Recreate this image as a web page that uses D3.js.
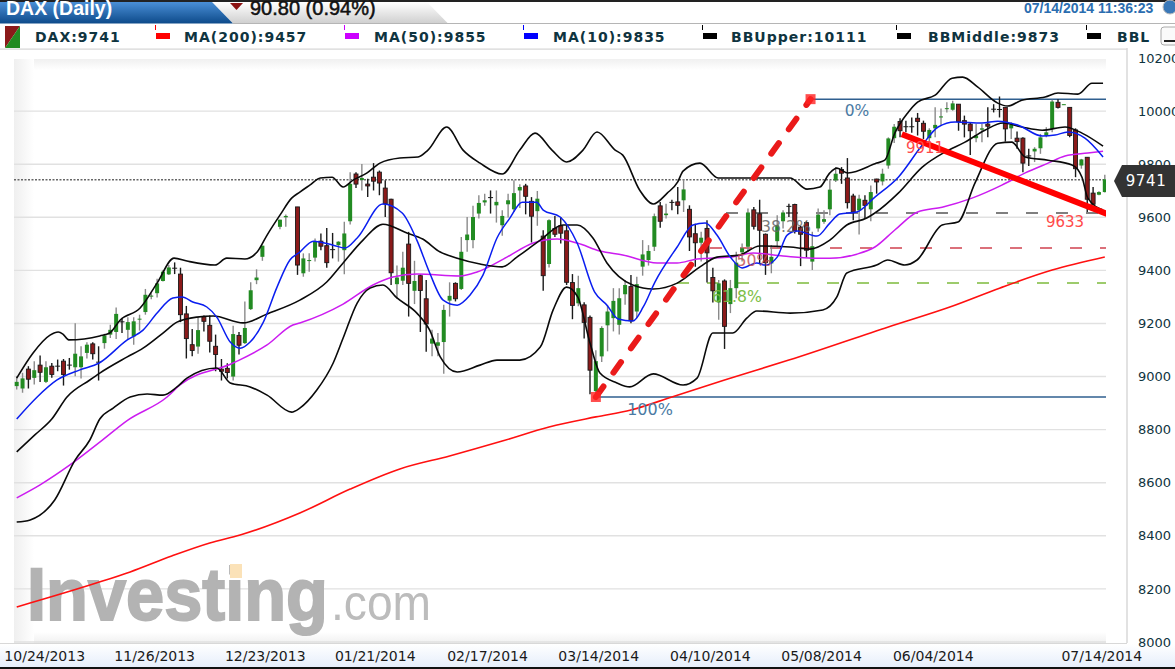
<!DOCTYPE html>
<html><head><meta charset="utf-8">
<script src="https://cdn.jsdelivr.net/npm/d3@7/dist/d3.min.js"></script>
<style>html,body{margin:0;padding:0;background:#fff;overflow:hidden}svg{display:block}text{font-family:"DejaVu Sans",sans-serif}</style>
</head><body><svg id="c" width="1175" height="669"></svg>
<script>
// ---- data ----
const opens=[8964,8955,9028,8995,9043,8980,9039,9041,9058,9045,9035,9035,9089,9123,9056,9126,9158,9168,9208,9176,9151,9215,9243,9301,9314,9360,9385,9410,9386,9236,9120,9113,9225,9193,9114,9028,9031,9000,9155,9126,9254,9363,9451,null,null,9564,9600,null,9639,
9389,9435,9448,9510,9493,9480,9495,9476,9585,9763,9740,9725,9751,9770,9710,9668,9348,9361,9499,9323,9380,9293,9124,9116,9130,9286,9351,9330,9514,9514,9614,9656,9676,9645,9570,9649,9630,9701,9718,9660,9623,9529,9424,9558,9568,9549,9354,9276,9270,9223,8945,
9076,9193,9220,9195,9310,9339,9245,9414,9439,9489,9643,9608,9658,9658,9664,9630,9538,9504,9558,9373,9279,9360,9273,9333,9468,9489,9628,9613,9536,9426,9510,9585,9643,9648,9563,9580,9433,9558,9583,9630,9739,9780,9748,9680,9626,9664,9630,9744,9735,9795,
9898,9961,9943,9943,9973,9954,9898,9935,9976,10008,10005,10026,9964,9951,9898,9930,9951,10009,10008,10014,9935,9898,9898,9833,9848,9860,9908,9933,10033,10024,10014,9929,9795,9826,9691,9685,9695];
const closes=[8980,8993,8990,9024,9016,9035,9008,9040,9008,9043,9086,9076,9120,9086,9055,9155,9176,9236,9206,9205,9208,9218,9308,9305,9351,9395,9411,9408,9233,9143,9098,9175,9208,9133,9083,9020,9015,9160,9118,9183,9325,9373,9493,null,null,9591,9605,null,9420,
9445,9439,9510,9491,9429,9478,9508,9539,9726,9725,9748,9718,9736,9729,9651,9391,9373,9410,9351,9360,9324,9198,9143,9129,9251,9304,9293,9470,9535,9601,9654,9664,9674,9658,9605,9664,9691,9714,9679,9604,9670,9380,9589,9536,9540,9355,9268,9333,9204,9024,9058,
9183,9245,9285,9295,9345,9210,9348,9460,9473,9604,9585,9614,9655,9645,9705,9526,9504,9523,9466,9323,9351,9189,9333,9429,9483,9618,9566,9551,9429,9451,9570,9618,9640,9548,9536,9476,9491,9610,9593,9704,9764,9766,9655,9620,9670,9645,9695,9733,9764,9897,
9941,9926,9940,9940,9961,9924,9929,9948,9980,10011,10029,9961,9951,9926,9908,9935,9943,10006,10005,9933,9949,9885,9804,9830,9858,9901,9920,10036,10014,10026,9908,9783,9818,9668,9649,9695,9743];
const highs=[9001,9014,9039,9058,9079,9058,9051,9064,9066,9070,9201,9114,9129,9129,9114,9161,9195,9260,9220,9223,9223,9233,9330,9314,9368,9401,9420,9430,9410,9266,9179,9223,9230,9230,9158,9066,9050,9191,9168,9283,9355,9404,9493,null,null,9591,9610,null,9639,
9464,9464,9520,9539,9560,9541,9510,9583,9770,9770,9801,9745,9804,9776,9739,9670,9418,9470,9545,9436,9385,9364,9176,9164,9270,9355,9355,9526,9601,9643,9683,9689,9701,9701,9626,9689,9739,9724,9726,9676,9699,9551,9593,9605,9601,9570,9386,9380,9280,9230,9099,
9189,9270,9333,9333,9364,9383,9376,9514,9495,9614,9658,9651,9666,9714,9743,9645,9576,9545,9589,9410,9364,9366,9364,9470,9501,9633,9639,9666,9539,9495,9608,9626,9651,9651,9568,9585,9545,9633,9626,9739,9789,9789,9823,9689,9685,9683,9720,9745,9783,9901,
9951,9973,9964,9976,9993,9964,9935,10014,10010,10033,10039,10026,9983,9955,9951,9951,10014,10026,10055,10014,9958,9923,9901,9858,9864,9914,9939,10043,10045,10026,10014,9935,9820,9826,9714,9698,9760];
const lows=[8951,8939,8955,8970,8979,8976,8995,9020,8966,9026,9001,8993,9068,9064,8985,9105,9145,9141,9164,9139,9120,9173,9233,9291,9298,9358,9383,9386,9205,9068,9076,9086,9170,9091,9020,8985,8993,8985,9083,9123,9251,9348,9436,null,null,9555,9564,null,9383,
9376,9395,9433,9476,9410,9445,9433,9385,9573,9710,9701,9676,9701,9683,9601,9345,9293,9345,9226,9273,9168,9093,9076,9076,9011,9226,9283,9326,9470,9483,9595,9643,9614,9580,9530,9599,9620,9635,9611,9505,9568,9323,9411,9526,9501,9345,9216,9265,9143,8933,8925,
9055,9095,9170,9158,9270,9201,9220,9380,9418,9473,9561,9595,9626,9611,9620,9473,9414,9433,9354,9279,9214,9104,9239,9295,9433,9470,9554,9423,9383,9389,9483,9558,9601,9539,9416,9448,9401,9545,9576,9608,9733,9726,9633,9589,9535,9595,9585,9689,9720,9783,
9880,9901,9920,9918,9908,9895,9880,9901,9945,9995,10001,9926,9901,9835,9883,9883,9901,9995,9976,9885,9895,9858,9770,9793,9808,9839,9901,9920,10010,10024,9901,9751,9783,9620,9645,9683,9693];
// moving-average and band readings: [candle index, value]
const ma200=[[0,8132],[13.6,8222],[19.4,8264],[26.5,8324],[33,8373],[38.2,8403],[48.4,8486],[57,8576],[65.5,8652],[74,8701],[83,8757],[91,8810],[99,8848],[105,8874],[112,8923],[121,8987],[132,9062],[149,9187],[160,9266],[168,9333],[177,9401],[186,9450]];
const ma50=[[0,8543],[4,8592],[9.1,8667],[14.2,8753],[19,8836],[25.7,8923],[27.9,8968],[37,9051],[42.8,9119],[47.2,9194],[48.4,9202],[55.8,9273],[60.9,9345],[64.3,9375],[68.4,9386],[75.8,9379],[78.7,9394],[83.8,9450],[88.3,9503],[92.4,9518],[95.8,9503],[99.7,9473],[103.6,9458],[109.5,9428],[112.9,9428],[116.3,9443],[122,9450],[125.9,9465],[131,9454],[136.1,9446],[139,9446],[143.6,9461],[146.7,9488],[150.1,9552],[154,9620],[158.2,9638],[163.3,9672],[168.4,9721],[172.4,9767],[176.3,9804],[179.2,9831],[183.1,9842],[185.7,9849]];
const ma10=[[0,8840],[3.5,8923],[6.9,8987],[10.8,9025],[14.1,9051],[18.9,9138],[21.6,9175],[24,9239],[26.7,9296],[28.3,9300],[30.1,9281],[32.5,9262],[34.2,9224],[36.5,9130],[38.2,9107],[39.9,9130],[42.1,9202],[44.5,9337],[46.7,9439],[48.4,9469],[50.7,9510],[54.1,9495],[56.1,9484],[58.2,9522],[62.6,9650],[65.9,9616],[68.4,9514],[70.6,9390],[72.9,9288],[75.3,9269],[77.5,9307],[79.7,9382],[82.1,9522],[84.3,9597],[86.4,9657],[88.9,9657],[90,9627],[92.9,9601],[95.8,9503],[98.8,9318],[100.9,9269],[102.8,9217],[105.3,9209],[107.1,9262],[109.1,9356],[112.9,9488],[115.6,9571],[117.7,9578],[119.7,9533],[122,9450],[124,9409],[126.5,9428],[127.9,9420],[130,9450],[131.7,9533],[133.4,9548],[136.8,9529],[139,9578],[140.7,9612],[143.6,9620],[146.7,9676],[150.7,9751],[154.8,9872],[157.5,9940],[160.4,9959],[165,9955],[167.7,9962],[171.2,9947],[175.3,9906],[177.5,9910],[179.7,9921],[182.6,9898],[185.7,9827]];
const bbUpper=[[0,8994],[2.8,9089],[5.7,9156],[7.1,9168],[7.9,9160],[8.9,9138],[14.2,9153],[15.9,9164],[17.7,9213],[21.1,9258],[24,9352],[26.9,9446],[29.1,9435],[33.9,9420],[35.9,9446],[39,9443],[41.1,9469],[42.8,9533],[45,9608],[47,9672],[48.4,9695],[50.1,9721],[51.9,9748],[53.9,9751],[55.8,9714],[57.5,9740],[59.9,9767],[62.1,9804],[65.5,9823],[68.6,9827],[70.3,9853],[73.5,9940],[76.3,9853],[79.2,9804],[83,9763],[86,9853],[88.6,9917],[91.5,9853],[94,9808],[96.8,9853],[99.2,9921],[102.3,9853],[103.6,9834],[106.5,9702],[108.8,9650],[111.2,9691],[113,9733],[113.9,9774],[116.8,9804],[119.9,9748],[125.9,9748],[132.2,9748],[135.1,9706],[137.3,9714],[139,9767],[140.2,9785],[142.1,9767],[147,9804],[148.4,9815],[150.1,9917],[152.4,9996],[154,10034],[157,10060],[159.9,10124],[161.7,10128],[164.3,10090],[167.7,10030],[169.4,10019],[171.8,10041],[175.8,10053],[178,10068],[181.4,10064],[183.8,10105],[185.7,10105]];
const bbMiddle=[[0,8716],[3.1,8780],[6,8840],[8.6,8923],[12.5,8987],[14.2,9013],[18.9,9074],[21.6,9107],[25,9164],[27.4,9205],[30.8,9224],[33.6,9228],[38.7,9202],[42.8,9236],[48.4,9288],[53,9356],[55.8,9428],[59.2,9514],[62.6,9574],[66.7,9541],[69.4,9518],[72.4,9469],[75.3,9446],[79.2,9424],[83,9413],[85.5,9450],[89.5,9514],[93.4,9571],[95.8,9571],[98.5,9522],[100.9,9428],[105.3,9345],[108.8,9330],[112.9,9352],[116.8,9413],[119.7,9450],[123.6,9458],[127,9492],[132.2,9488],[135.6,9480],[139,9514],[141.9,9571],[145.3,9597],[146.7,9616],[150.7,9691],[154.8,9789],[158.7,9846],[162.1,9883],[165.5,9928],[168.6,9955],[171.8,9940],[175.3,9928],[179.2,9940],[182.1,9917],[185.7,9868]];
const bbLower=[[0,8452],[2.3,8460],[6.5,8535],[10,8686],[12.5,8761],[14.2,8840],[16.5,8881],[19.4,8923],[22.3,8934],[25,8930],[27.4,8961],[29.1,8994],[34.2,9032],[36.5,8976],[39.9,8961],[42.8,8930],[47,8866],[48.4,8881],[51.3,8949],[54.1,9051],[55.8,9145],[58.2,9277],[60.4,9333],[62.6,9345],[65,9296],[68.4,9239],[70.6,9175],[72.4,9074],[75.3,9017],[79.2,9043],[82.1,9062],[86,9062],[89.5,9111],[91.7,9251],[94,9337],[95.9,9300],[98,9126],[99.7,9013],[102.6,8976],[104.8,8961],[108.8,9010],[113.9,8968],[116.3,8994],[119,9164],[122.4,9164],[124.8,9220],[126.5,9247],[132.2,9239],[137.8,9251],[140.2,9300],[141.9,9390],[147,9420],[148.9,9439],[151.8,9420],[153.9,9439],[158.2,9571],[160.9,9582],[163.8,9729],[167.7,9879],[170.1,9883],[172.4,9827],[176.3,9815],[180.4,9797],[182.1,9751],[183.1,9672],[185.7,9627]];
const yTicks=[8000,8200,8400,8600,8800,9000,9200,9400,9600,9800,10000,10200];
const xTickIdx=[4.7,23.5,42.4,61.2,80.4,99.4,118.5,137.5,156.6,185.4];
const xTickLabels=["10/24/2013","11/26/2013","12/23/2013","01/21/2014","02/17/2014","03/14/2014","04/10/2014","05/08/2014","06/04/2014","07/14/2014"];
const legendNames=["MA(200):9457","MA(50):9855","MA(10):9835","BBUpper:10111","BBMiddle:9873","BBL"];
const lastPrice=9741;
const fibTop=10045, fibBottom=8923;
const fibLevels=[["38.2%",9616],["50%",9484],["61.8%",9352]];
const trendFrom=[151.3,9913], trendTo=[186.9,9608];
const impulseFrom=[99,8923], impulseTo=[135.7,10045];

// ---- layout ----
const legendX=[[156,184],[345,374],[524,553],[703,731],[897,928],[1087,1117]];
const legendColors=["#ff0000","#cc00ff","#0000ff","#000","#000","#000"];
const svg=d3.select("#c");
const x=d3.scaleLinear().domain([0,186]).range([16.7,1104.8]);
const y=d3.scaleLinear().domain([8000,10200]).range([642,58]);
const plotL=14, plotR=1106, axisX=1127;
const defs=svg.append("defs");
function grad(id,stops,horizontal){const g=defs.append("linearGradient").attr("id",id).attr("x1",0).attr("y1",0).attr("x2",horizontal?1:0).attr("y2",horizontal?0:1);
 stops.forEach(s=>g.append("stop").attr("offset",s[0]).attr("stop-color",s[1]));}
grad("gBlue",[[0,"#4a8fd6"],[1,"#0d4a8a"]]);
grad("gGray",[[0,"#ffffff"],[1,"#cfcfcf"]]);
grad("gLeft",[[0,"#efefef"],[1,"#ffffff"]],true);
grad("gTop",[[0,"#f0f0f0"],[1,"#ffffff"]]);
grad("gBottom",[[0,"#ffffff"],[1,"#f0f0f0"]]);
grad("gAxis",[[0,"#ffffff"],[1,"#e6eefb"]]);
defs.append("clipPath").attr("id","plot").append("rect").attr("x",plotL).attr("y",59).attr("width",plotR-plotL).attr("height",584);

// header
svg.append("rect").attr("width",1175).attr("height",2).attr("fill","#222");
svg.append("path").attr("d","M212,2L427,2L448,23.5L233,23.5Z").attr("fill","url(#gGray)");
svg.append("path").attr("d","M0,2L212,2L233,23.5L0,23.5Z").attr("fill","url(#gBlue)");
svg.append("line").attr("x1",233).attr("x2",1175).attr("y1",23.5).attr("y2",23.5).attr("stroke","#b5b5b5");
const sans='"Liberation Sans",Arial,sans-serif';
svg.append("text").attr("x",6).attr("y",15).attr("fill","#fff").style("font-family",sans).style("font-weight","bold").style("font-size","19.5px").text("DAX (Daily)");
svg.append("path").attr("d","M230,3L243,3L236.5,10Z").attr("fill","#8b1212");
svg.append("text").attr("x",250).attr("y",15).attr("fill","#111").attr("stroke","#111").attr("stroke-width",.5).style("font-family",sans).style("font-size","20px").text("90.80 (0.94%)");
svg.append("text").attr("x",1024).attr("y",13).attr("fill","#2a6db0").style("font-family",sans).style("font-weight","bold").style("font-size","14px").text("07/14/2014 11:36:23");
svg.append("circle").attr("cx",1170).attr("cy",7).attr("r",7).attr("fill","#3a78b8").attr("stroke","#bbb");

// legend
svg.append("path").attr("d","M5,26L20,26L5,48Z").attr("fill","#8b1a1a");
svg.append("path").attr("d","M20,26L20,48L5,48Z").attr("fill","#228b22");
const legendStyle=s=>s.attr("fill","#0f3440").style("font-weight","bold").style("font-size","14px").style("letter-spacing","1px");
svg.append("text").attr("x",35).attr("y",41.5).text("DAX:9741").call(legendStyle);
legendNames.forEach((n,i)=>{
 const [sx,tx]=legendX[i],c=legendColors[i];
 svg.append("rect").attr("x",sx-1).attr("y",25).attr("width",1).attr("height",5).attr("fill",c);
 svg.append("rect").attr("x",sx).attr("y",33).attr("width",14).attr("height",6).attr("fill",c);
 svg.append("text").attr("x",tx).attr("y",41.5).text(n).call(legendStyle);
});
svg.append("rect").attr("x",0).attr("y",48.5).attr("width",axisX).attr("height",1.2).attr("fill","#d5d5d5");
svg.append("rect").attr("x",1161).attr("y",27).attr("width",20).attr("height",18).attr("rx",3).attr("fill","#fafafa").attr("stroke","#aaa");
svg.append("rect").attr("x",1164).attr("y",40).attr("width",11).attr("height",2).attr("fill","#222");

// plot background
svg.append("rect").attr("x",plotL).attr("y",59).attr("width",plotR-plotL).attr("height",11).attr("fill","url(#gTop)");
svg.append("rect").attr("x",plotL).attr("y",632).attr("width",plotR-plotL).attr("height",11).attr("fill","url(#gBottom)");
svg.append("rect").attr("x",plotL).attr("y",59).attr("width",20).attr("height",584).attr("fill","url(#gLeft)");
svg.append("line").attr("x1",axisX).attr("x2",axisX).attr("y1",48).attr("y2",643).attr("stroke","#d8d8d8").attr("stroke-width",1.5);

// grid
svg.append("g").selectAll("line").data(yTicks.filter(t=>t<10200)).join("line")
 .attr("x1",plotL).attr("x2",plotR).attr("y1",d=>y(d)).attr("y2",d=>y(d)).attr("stroke","#e1e1e1").attr("stroke-width",1.4);

// watermark
const wm=svg.append("g");
wm.append("text").attr("x",27).attr("y",620).attr("textLength",301).attr("lengthAdjust","spacingAndGlyphs").attr("fill","#b3b3b3").attr("stroke","#b3b3b3").attr("stroke-width",2).style("font-family",sans).style("font-weight","bold").style("font-size","75px").text("Investing");
wm.append("rect").attr("x",230).attr("y",564).attr("width",12).attr("height",14).attr("fill","#fbe2b8");
wm.append("text").attr("x",331).attr("y",620).attr("textLength",100).attr("lengthAdjust","spacingAndGlyphs").attr("fill","#bcbcbc").style("font-family",sans).style("font-size","50px").text(".com");

// last price line
svg.append("line").attr("x1",plotL).attr("x2",plotR).attr("y1",y(lastPrice)).attr("y2",y(lastPrice)).attr("stroke","#666").attr("stroke-width",1.5).attr("stroke-dasharray","2,1.5");

const plot=svg.append("g").attr("clip-path","url(#plot)");
// fibonacci levels
plot.append("line").attr("x1",x(impulseTo[0])).attr("x2",plotR).attr("y1",y(fibTop)).attr("y2",y(fibTop)).attr("stroke","#2f5f8f").attr("stroke-width",1.5);
plot.append("line").attr("x1",x(impulseFrom[0])).attr("x2",plotR).attr("y1",y(fibBottom)).attr("y2",y(fibBottom)).attr("stroke","#2f5f8f").attr("stroke-width",1.5);
const fibColors=["#555","#d0414f","#7dbb3c"];
const fibStart=[726,710,677];
fibLevels.forEach((f,i)=>plot.append("line").attr("x1",fibStart[i]).attr("x2",plotR).attr("y1",y(f[1])).attr("y2",y(f[1])).attr("stroke",fibColors[i]).attr("stroke-width",1.5).attr("stroke-dasharray","12,18"));

// candles
const idx=d3.range(opens.length).filter(i=>opens[i]!==null);
const kind=i=>closes[i]<opens[i]?(opens[i]-closes[i]<=3?"d":"r"):"g";
const wickC={r:"#1a1a1a",g:"#8a8a8a",d:"#1a1a1a"};
const cg=plot.append("g");
cg.selectAll("line").data(idx).join("line").attr("x1",i=>x(i)).attr("x2",i=>x(i)).attr("y1",i=>y(highs[i])).attr("y2",i=>y(lows[i])).attr("stroke",i=>wickC[kind(i)]).attr("stroke-width",1.4);
cg.selectAll("rect").data(idx).join("rect")
 .attr("x",i=>x(i)-(kind(i)=="d"?2.5:2)).attr("width",i=>kind(i)=="d"?5:4)
 .attr("y",i=>y(Math.max(opens[i],closes[i])))
 .attr("height",i=>Math.max(1,Math.abs(y(opens[i])-y(closes[i]))))
 .attr("fill",i=>({r:"#8b1a1a",g:"#228b22",d:"#1a1a1a"})[kind(i)])
 .attr("stroke",i=>kind(i)=="r"?"#1a1a1a":"none").attr("stroke-width",.9);

// lines
const lineGen=d3.line().x(d=>x(d[0])).y(d=>y(d[1])).curve(d3.curveMonotoneX);
[[ma200,"#ff1010",1.6],[ma50,"#cc1cf0",1.5],[bbUpper,"#0a0a0a",1.6],[bbMiddle,"#0a0a0a",1.6],[bbLower,"#0a0a0a",1.6],[ma10,"#0a1ef0",1.5]].forEach(s=>
 plot.append("path").attr("d",lineGen(s[0])).attr("fill","none").attr("stroke",s[1]).attr("stroke-width",s[2]));

// drawn trend lines
plot.append("line").attr("x1",x(impulseFrom[0])).attr("y1",y(impulseFrom[1])).attr("x2",x(impulseTo[0])).attr("y2",y(impulseTo[1])).attr("stroke","#ea1a1a").attr("stroke-width",6).attr("stroke-linecap","round").attr("stroke-dasharray","13,17");
plot.append("line").attr("x1",x(trendFrom[0])).attr("y1",y(trendFrom[1])).attr("x2",x(trendTo[0])).attr("y2",y(trendTo[1])).attr("stroke","#f00").attr("stroke-width",6);
[impulseFrom,impulseTo].forEach(p=>plot.append("rect").attr("x",x(p[0])-5).attr("y",y(p[1])-5).attr("width",10).attr("height",10).attr("fill","#f22").attr("opacity",.8));

// annotations
const ann=(t,cx,cy,c,fs,op)=>svg.append("text").attr("x",cx).attr("y",cy).attr("text-anchor","middle").attr("dominant-baseline","central").attr("fill",c).attr("opacity",op||1).style("font-size",fs+"px").text(t);
ann("0%",857,111,"#4a7aa3",15.5);
ann("100%",650,409,"#4a7aa3",16);
ann("38.2%",786,226,"#666",15.7,.85);
ann("50%",754,260,"#c4505a",15.7,.85);
ann("61.8%",737,296,"#76bb3c",15.7,.95);
ann("9911",925,148,"#ff4a4a",15);
ann("9633",1065,222,"#ff4a4a",15);

// x strip and axes
svg.append("rect").attr("x",0).attr("y",644).attr("width",1175).attr("height",23).attr("fill","url(#gAxis)");
svg.append("line").attr("x1",0).attr("x2",axisX).attr("y1",643.5).attr("y2",643.5).attr("stroke","#d8d8d8");
svg.append("rect").attr("x",0).attr("y",667).attr("width",1175).attr("height",2).attr("fill","#111");
const xAxis=svg.append("g").attr("transform","translate(0,644)").call(d3.axisBottom(x).tickValues(xTickIdx).tickSize(0).tickPadding(7).tickFormat((d,i)=>xTickLabels[i]));
xAxis.select(".domain").remove();
xAxis.selectAll("text").attr("fill","#1a1a1a").style("font-size","14px").style("font-family",'"DejaVu Sans",sans-serif');
const yAxis=svg.append("g").attr("transform",`translate(${axisX},0)`).call(d3.axisRight(y).tickValues(yTicks).tickSize(0).tickPadding(11).tickFormat(d3.format("d")));
yAxis.select(".domain").remove();
yAxis.selectAll("text").attr("fill","#0f3440").style("font-size","13px").style("font-family",'"DejaVu Sans",sans-serif');

// price tag
svg.append("path").attr("d","M1114,181L1122,165L1175,165L1175,197L1122,197Z").attr("fill","#333");
svg.append("text").attr("x",1146).attr("y",181).attr("text-anchor","middle").attr("dominant-baseline","central").attr("fill","#fff").style("font-size","15px").style("letter-spacing",".6px").text(lastPrice);
</script></body></html>
